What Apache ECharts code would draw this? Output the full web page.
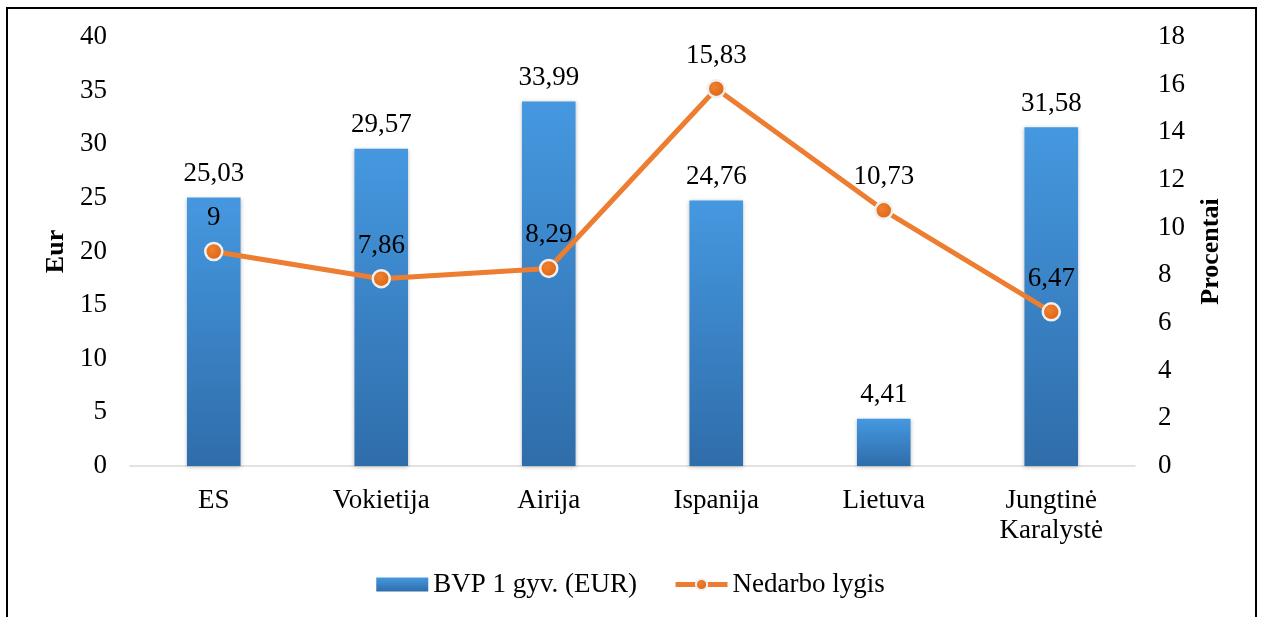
<!DOCTYPE html>
<html>
<head>
<meta charset="utf-8">
<script src="https://cdn.jsdelivr.net/npm/echarts@6/dist/echarts.min.js"></script>
<style>
html,body{margin:0;padding:0;background:#fff;}
#c{width:1261px;height:617px;}
</style>
</head>
<body>
<div id="c"></div>
<script>
const categories = ['ES', 'Vokietija', 'Airija', 'Ispanija', 'Lietuva', 'Jungtinė\nKaralystė'];
const gdpValues = [25.03, 29.57, 33.99, 24.76, 4.41, 31.58];
const unemploymentValues = [9, 7.86, 8.29, 15.83, 10.73, 6.47];
const leftTicks = {min: 0, max: 40, interval: 5};
const rightTicks = {min: 0, max: 18, interval: 2};

const FONT = '"Liberation Serif", "Times New Roman", serif';
const fmt = p => String(p.value).replace('.', ',');

const chart = echarts.init(document.getElementById('c'));
chart.setOption({
  animation: false,
  textStyle: {fontFamily: FONT, color: '#000'},
  graphic: [{
    type: 'rect',
    shape: {x: 7, y: 8, width: 1249, height: 640},
    style: {fill: 'none', stroke: '#000', lineWidth: 2},
    z: 100
  }],
  grid: {left: 130, right: 126, top: 37, bottom: 151},
  legend: {
    top: 566,
    left: 'center',
    itemWidth: 52,
    itemHeight: 14,
    itemGap: 36,
    textStyle: {fontFamily: FONT, fontSize: 27, color: '#000'},
    data: [
      {name: 'BVP 1 gyv. (EUR)', icon: 'rect'},
      {name: 'Nedarbo lygis', lineStyle: {width: 5}}
    ]
  },
  xAxis: {
    type: 'category',
    data: categories,
    axisLine: {lineStyle: {color: '#d9d9d9', width: 1.5}},
    axisTick: {show: false},
    axisLabel: {fontFamily: FONT, fontSize: 27, color: '#000', margin: 20, lineHeight: 30}
  },
  yAxis: [{
    type: 'value',
    min: leftTicks.min, max: leftTicks.max, interval: leftTicks.interval,
    name: 'Eur',
    nameLocation: 'middle',
    nameRotate: 90,
    nameGap: 60,
    nameTextStyle: {fontFamily: FONT, fontSize: 26, fontWeight: 'bold', color: '#000'},
    splitLine: {show: false},
    axisLine: {show: false},
    axisTick: {show: false},
    axisLabel: {fontFamily: FONT, fontSize: 27, color: '#000', margin: 23}
  }, {
    type: 'value',
    min: rightTicks.min, max: rightTicks.max, interval: rightTicks.interval,
    name: 'Procentai',
    nameLocation: 'middle',
    nameRotate: 90,
    nameGap: 63,
    nameTextStyle: {fontFamily: FONT, fontSize: 26, fontWeight: 'bold', color: '#000'},
    splitLine: {show: false},
    axisLine: {show: false},
    axisTick: {show: false},
    axisLabel: {fontFamily: FONT, fontSize: 27, color: '#000', margin: 23}
  }],
  series: [{
    name: 'BVP 1 gyv. (EUR)',
    type: 'bar',
    yAxisIndex: 0,
    data: gdpValues,
    barWidth: '32%',
    itemStyle: {
      color: new echarts.graphic.LinearGradient(0, 0, 0, 1, [
        {offset: 0, color: '#4598e0'},
        {offset: 1, color: '#2f6daa'}
      ]),
      shadowColor: 'rgba(0,0,0,0.25)',
      shadowBlur: 4,
      shadowOffsetY: 1
    },
    label: {
      show: true,
      position: 'top',
      distance: 10,
      formatter: fmt,
      fontFamily: FONT,
      fontSize: 27,
      color: '#000'
    }
  }, {
    name: 'Nedarbo lygis',
    type: 'line',
    yAxisIndex: 1,
    data: unemploymentValues,
    symbol: 'circle',
    symbolSize: 17,
    lineStyle: {color: '#ED7D31', width: 5},
    itemStyle: {
      color: new echarts.graphic.RadialGradient(0.4, 0.4, 0.7, [
        {offset: 0, color: '#f08030'},
        {offset: 1, color: '#d9600a'}
      ]),
      borderColor: '#f0f0f0',
      borderWidth: 2.5
    },
    label: {
      show: true,
      position: 'top',
      distance: 10,
      formatter: fmt,
      fontFamily: FONT,
      fontSize: 27,
      color: '#000'
    },
    z: 5
  }]
});
</script>
</body>
</html>
